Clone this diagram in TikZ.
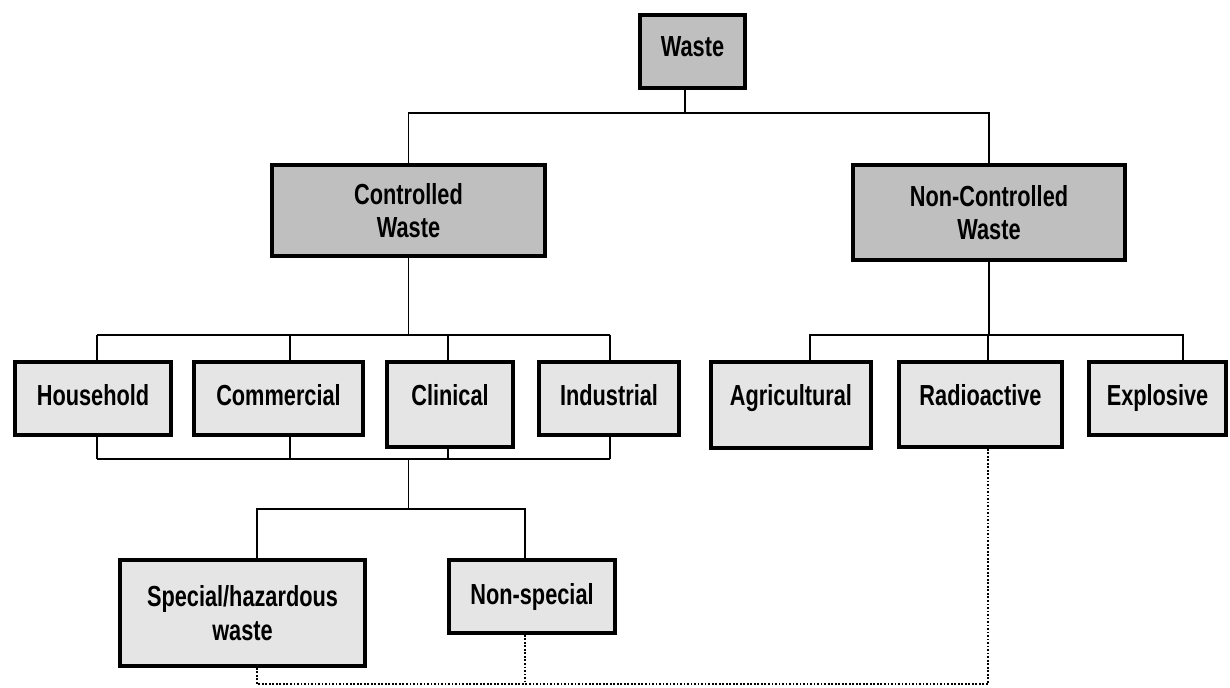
\documentclass[tikz,border=0pt]{standalone}
\usepackage{fontspec}
\newfontfamily\boxfont{Liberation Sans}[FakeStretch=0.75]
\usetikzlibrary{calc,positioning}

\begin{document}
\begin{tikzpicture}[
  boxtext/.style={font=\boxfont\bfseries\fontsize{16.5}{19}\selectfont},
  mainbox/.style={rectangle,draw=black,line width=2.2pt,fill=gray!50,boxtext,align=center,anchor=north},
  catbox/.style={rectangle,draw=black,line width=2.2pt,fill=gray!20,boxtext,align=center,anchor=north,minimum height=1.46cm,text depth=4pt},
  link/.style={line width=1pt},
  dotlink/.style={line width=1pt,densely dotted},
  ]

  \fill[white] (0,0) rectangle (24.6,-13.74);
  \useasboundingbox (0,0) rectangle (24.6,-13.74);

  % main groups
  \node (waste) [mainbox,minimum width=2.1cm,minimum height=1.46cm,text depth=6pt] at (13.85,-.26) {Waste};
  \node (ctrl_waste) [mainbox,minimum width=5.46cm,minimum height=1.82cm] at (8.17,-3.26) {Controlled\\Waste};
  \node (nonctrl_waste) [mainbox,minimum width=5.44cm,minimum height=1.9cm] at (19.78,-3.26) {Non-Controlled\\Waste};

  % categories
  \node (household) [catbox,minimum width=3.12cm] at (1.86,-7.2) {Household};
  \node (commercial) [catbox,minimum width=3.38cm] at (5.57,-7.2) {Commercial};
  \node (clinical) [catbox,minimum width=2.52cm,minimum height=1.7cm,text depth=11pt] at (9.0,-7.2) {Clinical};
  \node (industrial) [catbox,minimum width=2.8cm] at (12.18,-7.2) {Industrial};
  \node (agricultural) [catbox,minimum width=3.2cm,minimum height=1.72cm,text depth=11pt] at (15.82,-7.2) {Agricultural};
  \node (radioactive) [catbox,minimum width=3.26cm,minimum height=1.7cm,text depth=11pt] at (19.61,-7.2) {Radioactive};
  \node (explosive) [catbox,minimum width=2.74cm] at (23.15,-7.2) {Explosive};

  \node (special) [catbox,minimum width=4.9cm,minimum height=2.12cm,text depth=0pt] at (4.85,-11.16) {Special/hazardous\\waste};
  \node (non_special) [catbox,minimum width=3.32cm,text depth=3pt] at (10.64,-11.16) {Non-special};

  % bus lines
  \coordinate (bus_top) at (0,-2.26);
  \coordinate (bus_mid) at (0,-6.7);
  \coordinate (bus_low) at (0,-9.18);
  \coordinate (bus_clin) at (0,-10.18);
  \coordinate (bus_dot) at (0,-13.68);

  \draw[link] ($(waste.south)+(-.15,0)$) -- ($(waste.south |- bus_top)+(-.15,0)$);
  \draw[link] (ctrl_waste.north) |- (nonctrl_waste.north |- bus_top) -- (nonctrl_waste.north);

  % controlled waste
  \draw[link] (ctrl_waste.south) -- (ctrl_waste.south |- bus_mid);
  \draw[link] ($(household.north |- bus_mid)+(.08,0)$) -- ($(industrial.north |- bus_mid)+(.02,0)$);
  \draw[link] ($(household.south |- bus_low)+(.08,0)$) -- ($(industrial.south |- bus_low)+(.02,0)$);
  \foreach \n/\dx in {household/.08,commercial/.23,clinical/-.04,industrial/.02}
  {
    \draw[link] ($(\n.north)+(\dx,0)$) -- ($(\n.north |- bus_mid)+(\dx,0)$);
    \draw[link] ($(\n.south)+(\dx,0)$) -- ($(\n.south |- bus_low)+(\dx,0)$);
  }
  \draw[link] (ctrl_waste.south |- bus_low) -- (ctrl_waste.south |- bus_clin);
  \draw[link] ($(special.north)+(.29,0)$) |- ($(non_special.north |- bus_clin)+(-.14,0)$) -- ($(non_special.north)+(-.14,0)$);

  % non-controlled waste
  \draw[link] (nonctrl_waste.south) -- (nonctrl_waste.south |- bus_mid);
  \draw[link] ($(agricultural.north)+(.38,0)$) |- ($(explosive.north |- bus_mid)+(.51,0)$) -- ($(explosive.north)+(.51,0)$);
  \draw[link] ($(radioactive.north)+(.15,0)$) -- ($(radioactive.north |- bus_mid)+(.15,0)$);

  % dotted return
  \draw[dotlink] ($(radioactive.south)+(.15,0)$) |- ($(special.south |- bus_dot)+(.29,0)$) -- ($(special.south)+(.29,0)$);
  \draw[dotlink] ($(non_special.south)+(-.14,0)$) -- ($(non_special.south |- bus_dot)+(-.14,0)$);

\end{tikzpicture}
\end{document}
